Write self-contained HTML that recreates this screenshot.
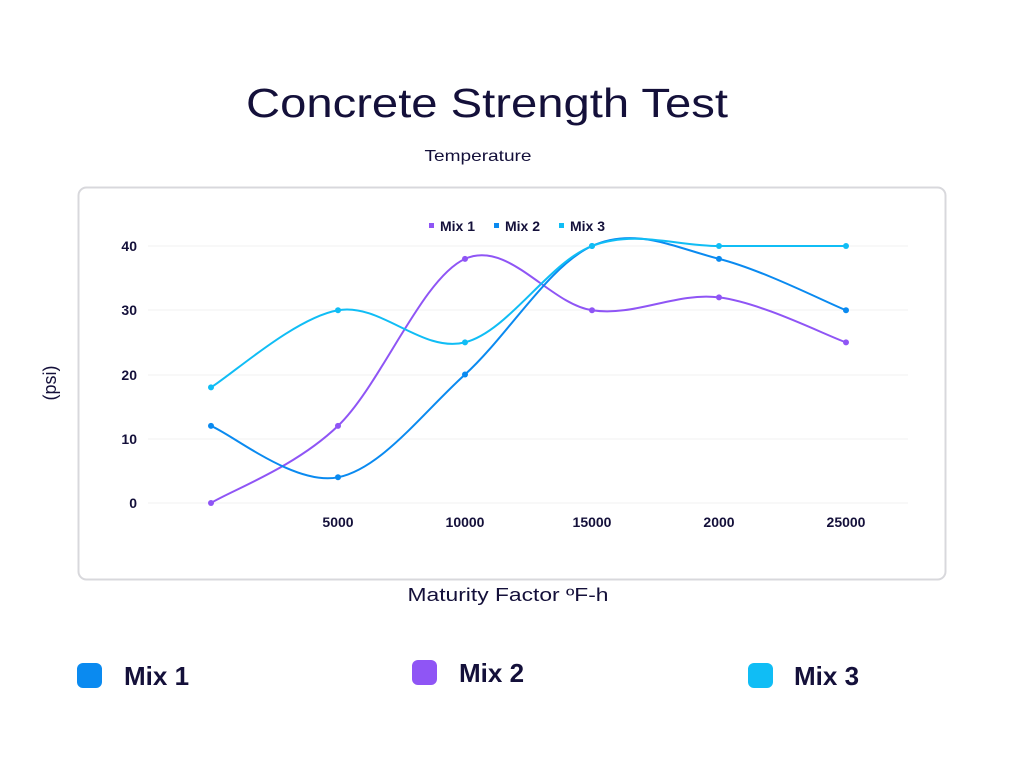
<!DOCTYPE html>
<html><head><meta charset="utf-8"><style>
body{margin:0;width:1024px;height:768px;background:#fff;font-family:"Liberation Sans",sans-serif;overflow:hidden}
</style></head><body>
<svg width="1024" height="768" xmlns="http://www.w3.org/2000/svg" font-family="Liberation Sans, sans-serif">
<text x="487" y="117" text-anchor="middle" font-size="41" fill="#14103a" textLength="482" lengthAdjust="spacingAndGlyphs">Concrete Strength Test</text>
<text x="478" y="161" text-anchor="middle" font-size="16" fill="#14103a" textLength="107" lengthAdjust="spacingAndGlyphs">Temperature</text>
<rect x="78.5" y="187.5" width="867" height="392" rx="8" fill="#fff" stroke="#d8d8dc" stroke-width="2"/>
<g stroke="#f0f0f0" stroke-width="1">
<line x1="148" x2="908" y1="246" y2="246"/><line x1="148" x2="908" y1="310" y2="310"/>
<line x1="148" x2="908" y1="375" y2="375"/><line x1="148" x2="908" y1="439" y2="439"/>
<line x1="148" x2="908" y1="503" y2="503"/>
</g>
<g font-size="14" font-weight="bold" fill="#14103a" text-anchor="end">
<text x="137" y="251">40</text><text x="137" y="315">30</text><text x="137" y="380">20</text><text x="137" y="444">10</text><text x="137" y="508">0</text>
</g>
<g font-size="14" font-weight="bold" fill="#14103a" text-anchor="middle">
<text x="338" y="527">5000</text><text x="465" y="527">10000</text><text x="592" y="527">15000</text><text x="719" y="527">2000</text><text x="846" y="527">25000</text>
</g>
<text transform="translate(56,383) rotate(-90)" text-anchor="middle" font-size="18" fill="#14103a">(psi)</text>
<text x="508" y="601" text-anchor="middle" font-size="18" fill="#14103a" textLength="201" lengthAdjust="spacingAndGlyphs">Maturity Factor ºF-h</text>
<g font-size="14" font-weight="bold" fill="#14103a">
<rect x="429" y="223" width="5" height="5" fill="#8f55f5"/><text x="440" y="231">Mix 1</text>
<rect x="494" y="223" width="5" height="5" fill="#0a8af0"/><text x="505" y="231">Mix 2</text>
<rect x="559" y="223" width="5" height="5" fill="#10bdf5"/><text x="570" y="231">Mix 3</text>
</g>
<g id="series"></g>
<rect x="77" y="663" width="25" height="25" rx="6" fill="#0a8af0"/>
<text x="124" y="685" font-size="26" font-weight="bold" fill="#14103a">Mix 1</text>
<rect x="412" y="660" width="25" height="25" rx="6" fill="#8f55f5"/>
<text x="459" y="682" font-size="26" font-weight="bold" fill="#14103a">Mix 2</text>
<rect x="748" y="663" width="25" height="25" rx="6" fill="#10bdf5"/>
<text x="794" y="685" font-size="26" font-weight="bold" fill="#14103a">Mix 3</text>
</svg>
<script>
var xs=[211,338,465,592,719,846];
function Y(v){return 503-v*6.425;}
var S=[["#8f55f5",[0,12,38,30,32,25]],["#0a8af0",[12,4,20,40,38,30]],["#10bdf5",[18,30,25,40,40,40]]];
var g=document.getElementById("series"),h="";
S.forEach(function(s){
 var p=s[1].map(function(v,i){return [xs[i],Y(v)];});
 var d="M"+p[0][0]+","+p[0][1];
 for(var i=0;i<p.length-1;i++){
  var p0=p[i-1]||p[i],p1=p[i],p2=p[i+1],p3=p[i+2]||p2,t=0.17;
  d+=" C"+(p1[0]+(p2[0]-p0[0])*t)+","+(p1[1]+(p2[1]-p0[1])*t)+" "+(p2[0]-(p3[0]-p1[0])*t)+","+(p2[1]-(p3[1]-p1[1])*t)+" "+p2[0]+","+p2[1];
 }
 h+='<path d="'+d+'" fill="none" stroke="'+s[0]+'" stroke-width="2"/>';
 p.forEach(function(q){h+='<circle cx="'+q[0]+'" cy="'+q[1]+'" r="3" fill="'+s[0]+'"/>';});
});
g.innerHTML=h;
</script>
</body></html>
